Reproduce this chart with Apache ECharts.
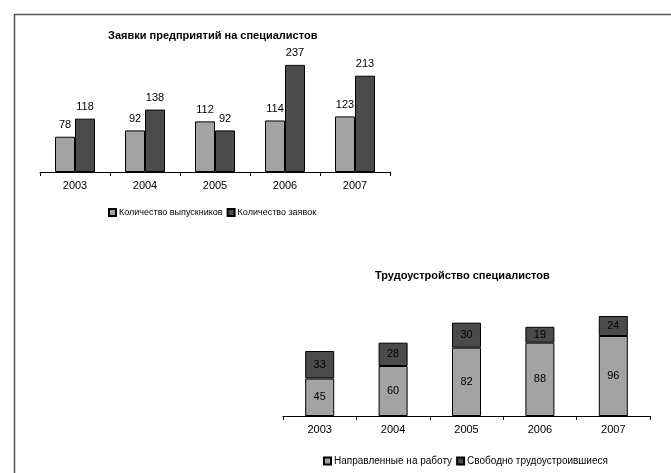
<!DOCTYPE html>
<html>
<head>
<meta charset="utf-8">
<script src="https://cdn.jsdelivr.net/npm/echarts@6/dist/echarts.min.js"></script>
<style>
html, body { margin: 0; padding: 0; background: #fff; }
#main { width: 671px; height: 473px; }
</style>
</head>
<body>
<div id="main"></div>
<script>
var years = ['2003', '2004', '2005', '2006', '2007'];

// chart 1: заявки
var graduates = [78, 92, 112, 114, 123];
var requests = [118, 138, 92, 237, 213];

// chart 2: трудоустройство
var directed = [45, 60, 82, 88, 96];
var selfEmployed = [33, 28, 30, 19, 24];

var light = '#a3a3a3';
var dark = '#4b4b4b';
var font = 'Liberation Sans, Arial, sans-serif';

var chart = echarts.init(document.getElementById('main'));

function catAxis(idx) {
    return {
	type: 'category', gridIndex: idx, data: years,
	axisLine: {lineStyle: {color: '#000', width: 1}},
	axisTick: {show: true, length: 4, inside: false, lineStyle: {color: '#000'}},
	axisLabel: {color: '#000', fontSize: 11, fontFamily: font, margin: 8}
    };
}

function valAxis(idx, max) {
    return {
	type: 'value', gridIndex: idx, min: 0, max: max,
	show: false, splitLine: {show: false}
    };
}

var txt = {color: '#000', fontSize: 11, fontFamily: font};

chart.setOption({
    animation: false,
    graphic: [{
	type: 'rect', left: 12, top: 12,
	shape: {width: 700, height: 500},
	style: {fill: 'none', stroke: '#555', lineWidth: 1.5}
    }],
    title: [
	{text: 'Заявки предприятий на специалистов', left: 103, top: 25,
	 textStyle: {fontSize: 11, fontWeight: 'bold', fontFamily: font, color: '#000'}},
	{text: 'Трудоустройство специалистов', left: 370, top: 265,
	 textStyle: {fontSize: 11, fontWeight: 'bold', fontFamily: font, color: '#000'}}
    ],
    legend: [
	{data: ['Количество выпускников', 'Количество заявок'], left: 103, top: 203,
	 itemWidth: 7, itemHeight: 7, itemGap: 4, icon: 'rect',
	 textStyle: {fontSize: 9, fontFamily: font, color: '#000', padding: [0, 0, 0, -2]}},
	{data: ['Направленные на работу', 'Свободно трудоустроившиеся'], left: 318, top: 451,
	 itemWidth: 7, itemHeight: 7, itemGap: 4, icon: 'rect',
	 textStyle: {fontSize: 10, fontFamily: font, color: '#000', padding: [0, 0, 0, -2]}}
    ],
    grid: [
	{left: 40, width: 350, top: 59, bottom: 301},
	{left: 283, width: 367, top: 291, bottom: 57}
    ],
    xAxis: [catAxis(0), catAxis(1)],
    yAxis: [valAxis(0, 250), valAxis(1, 150)],
    series: [
	{name: 'Количество выпускников', type: 'bar', xAxisIndex: 0, yAxisIndex: 0,
	 data: graduates, barWidth: 20, barGap: '0%',
	 itemStyle: {color: light, borderColor: '#000', borderWidth: 1},
	 label: Object.assign({show: true, position: 'top', distance: 6}, txt)},
	{name: 'Количество заявок', type: 'bar', xAxisIndex: 0, yAxisIndex: 0,
	 data: requests, barWidth: 20, barGap: '0%',
	 itemStyle: {color: dark, borderColor: '#000', borderWidth: 1},
	 label: Object.assign({show: true, position: 'top', distance: 6}, txt)},
	{name: 'Направленные на работу', type: 'bar', xAxisIndex: 1, yAxisIndex: 1,
	 data: directed, stack: 'emp', barWidth: 29,
	 itemStyle: {color: light, borderColor: '#000', borderWidth: 1},
	 label: Object.assign({show: true, position: 'inside'}, txt)},
	{name: 'Свободно трудоустроившиеся', type: 'bar', xAxisIndex: 1, yAxisIndex: 1,
	 data: selfEmployed, stack: 'emp', barWidth: 29,
	 itemStyle: {color: dark, borderColor: '#000', borderWidth: 1},
	 label: Object.assign({show: true, position: 'inside'}, txt)}
    ]
});
</script>
</body>
</html>
